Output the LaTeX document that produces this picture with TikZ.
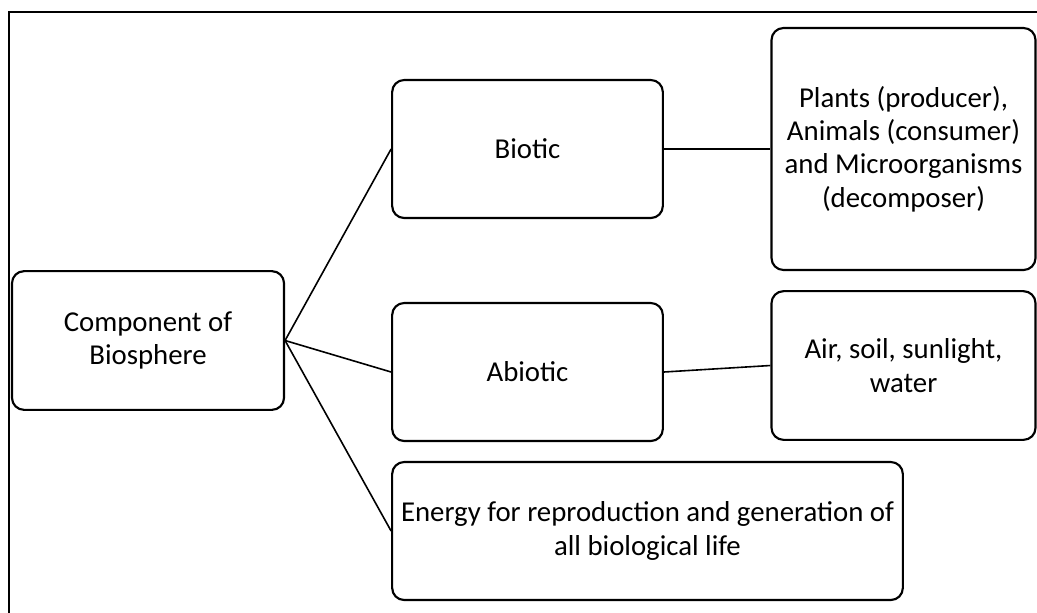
\documentclass[tikz,border=0pt]{standalone}
\usepackage{fontspec}
\setmainfont{Carlito}
\usepackage{tikz}
\usetikzlibrary{calc}

\tikzset{
  compbox/.style={draw,line width=1.6pt,rounded corners=9pt,align=center,
    font=\fontsize{21.6}{25}\selectfont,inner sep=0pt},
  link/.style={line width=1.2pt}
}

\begin{document}
\begin{tikzpicture}[x=0.75pt,y=-0.75pt]
    \clip (0,0) rectangle (1037,612);
    \draw[line width=1.8pt] (9,640) -- (9,12) -- (1060,12);
    \node[compbox,minimum width=204pt,minimum height=104pt] (comp) at (148,340.5) {Component of\\Biosphere};
    \node[compbox,minimum width=203pt,minimum height=103.5pt] (biotic) at (527.5,149) {Biotic};
    \node[compbox,minimum width=198pt,minimum height=181.5pt] (plants) at (903.5,149)
    {Plants (producer),\\Animals (consumer)\\and Microorganisms\\(decomposer)};
    \node[compbox,minimum width=203pt,minimum height=103.5pt] (abiotic) at (527.5,372) {Abiotic};
    \node[compbox,minimum width=198pt,minimum height=111.5pt] (air) at (903.5,365.5) {Air, soil, sunlight,\\water};
    \node[compbox,minimum width=383pt,minimum height=103.5pt] (energy) at (647.5,531)
    {Energy for reproduction and generation of\\all biological life};
    \draw[link] (comp.east) -- (biotic.west);
    \draw[link] (comp.east) -- (abiotic.west);
    \draw[link] (comp.east) -- (energy.west);
    \draw[link] (biotic.east) -- (plants.west);
    \draw[link] (abiotic.east) -- (air.west);
  \end{tikzpicture}
\end{document}
